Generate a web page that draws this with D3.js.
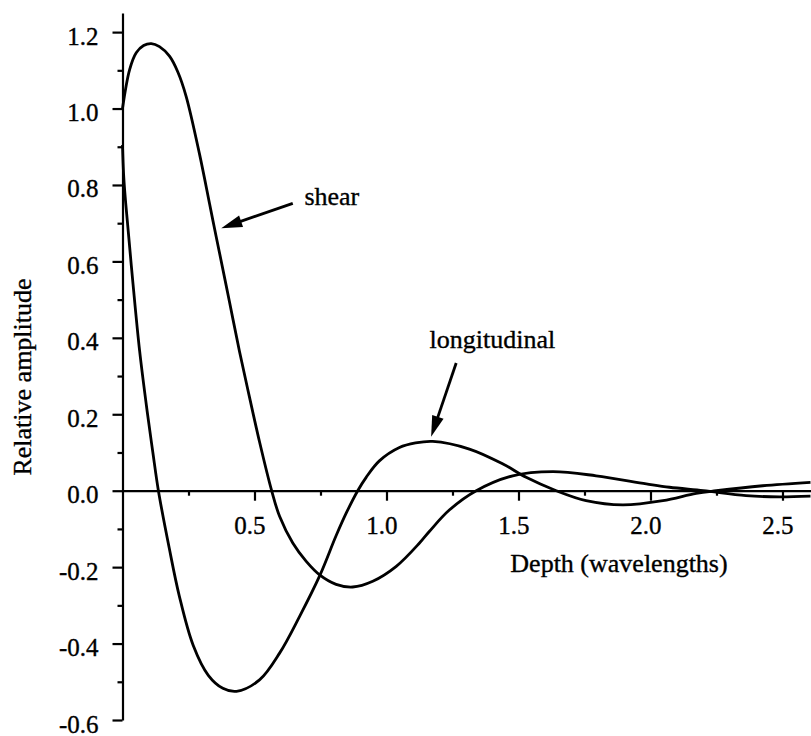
<!DOCTYPE html>
<html>
<head>
<meta charset="utf-8">
<script src="https://cdn.jsdelivr.net/npm/d3@7"></script>
<style>
  html, body { margin: 0; padding: 0; background: #fff; }
  svg { display: block; }
  text { font-family: "Liberation Serif", "Times New Roman", serif; fill: #000; stroke: #000; stroke-width: 0.35px; }
</style>
</head>
<body>
<svg id="chart" width="811" height="736"></svg>
<script>
// Depth in wavelengths and relative amplitude for the shear component
const shearDepth = [0.000, 0.027, 0.052, 0.080, 0.109, 0.140, 0.178, 0.210, 0.241, 0.292,
  0.330, 0.348, 0.367, 0.405, 0.443, 0.481, 0.519, 0.565, 0.595, 0.645,
  0.696, 0.748, 0.809, 0.872, 0.948, 1.037, 1.125, 1.163, 1.239, 1.340,
  1.478, 1.630, 1.794, 1.984, 2.072, 2.200, 2.362, 2.489, 2.606];
const shearAmp = [1.000, 1.102, 1.146, 1.165, 1.170, 1.162, 1.137, 1.095, 1.032, 0.880,
  0.750, 0.688, 0.624, 0.495, 0.365, 0.245, 0.128, 0.000, -0.067, -0.137,
  -0.185, -0.221, -0.245, -0.252, -0.237, -0.198, -0.137, -0.106, -0.050, 0.000,
  0.039, 0.050, 0.039, 0.018, 0.009, 0.000, -0.013, -0.016, -0.014];

// Depth in wavelengths and relative amplitude for the longitudinal component
const longDepth = [0.000, 0.004, 0.010, 0.019, 0.040, 0.065, 0.093, 0.115, 0.136, 0.177,
  0.215, 0.268, 0.325, 0.380, 0.432, 0.519, 0.595, 0.670, 0.748, 0.809,
  0.850, 0.891, 0.923, 0.973, 1.049, 1.110, 1.175, 1.314, 1.441, 1.529,
  1.643, 1.756, 1.895, 2.047, 2.173, 2.249, 2.425, 2.606];
const longAmp = [0.905, 0.830, 0.770, 0.700, 0.540, 0.365, 0.210, 0.100, 0.000, -0.150,
  -0.275, -0.405, -0.483, -0.517, -0.525, -0.495, -0.425, -0.330, -0.221, -0.118,
  -0.055, 0.000, 0.035, 0.078, 0.113, 0.125, 0.129, 0.109, 0.070, 0.035,
  0.000, -0.026, -0.037, -0.026, -0.007, 0.000, 0.013, 0.022];

// Axis ticks and their printed labels
const xMajorTicks = [0.5, 1.0, 1.5, 2.0, 2.5];
const xTickLabels = ["0.5", "1.0", "1.5", "2.0", "2.5"];
const xMinorTicks = [0.25, 0.75, 1.25, 1.75, 2.25];
const yMajorTicks = [-0.6, -0.4, -0.2, 0.0, 0.2, 0.4, 0.6, 0.8, 1.0, 1.2];
const yTickLabels = ["-0.6", "-0.4", "-0.2", "0.0", "0.2", "0.4", "0.6", "0.8", "1.0", "1.2"];
const yMinorTicks = [-0.5, -0.3, -0.1, 0.1, 0.3, 0.5, 0.7, 0.9, 1.1];

// Curve annotations: label text, label anchor and arrow tail/tip in data units
const annotations = [
  { text: "shear", label: [0.689, 0.747], tail: [0.645, 0.752], tip: [0.374, 0.687] },
  { text: "longitudinal", label: [1.163, 0.373], tail: [1.264, 0.334], tip: [1.169, 0.141] }
];

const svg = d3.select("#chart");
const x = d3.scaleLinear().domain([0, 2.608]).range([122.5, 811]);
const y = d3.scaleLinear().domain([-0.6, 1.25]).range([720, 13]);

// Y axis with long major ticks and short minor ticks
const yAxis = svg.append("g").attr("transform", `translate(${x(0)},0)`)
  .call(d3.axisLeft(y).tickValues(yMajorTicks).tickSize(10).tickSizeOuter(0).tickPadding(14)
    .tickFormat((d, i) => yTickLabels[i]));
svg.append("g").attr("transform", `translate(${x(0)},0)`)
  .call(d3.axisLeft(y).tickValues(yMinorTicks).tickSize(5).tickFormat(""))
  .call(g => g.select(".domain").remove());

// X axis drawn along zero amplitude
const xAxis = svg.append("g").attr("transform", `translate(0,${y(0)})`)
  .call(d3.axisBottom(x).tickValues(xMajorTicks).tickSize(10).tickSizeOuter(0).tickPadding(16)
    .tickFormat((d, i) => xTickLabels[i]));
svg.append("g").attr("transform", `translate(0,${y(0)})`)
  .call(d3.axisBottom(x).tickValues(xMinorTicks).tickSize(5).tickFormat(""))
  .call(g => g.select(".domain").remove());

svg.selectAll(".domain, .tick line").attr("stroke", "#000").attr("stroke-width", 2.2);
yAxis.selectAll(".tick text").attr("font-size", 25).attr("dy", "0.48em")
  .style("font-family", "'Liberation Serif', serif");
xAxis.selectAll(".tick text").attr("font-size", 25).attr("dx", -5)
  .style("font-family", "'Liberation Serif', serif");

// Curves
const line = d3.line().x(d => x(d[0])).y(d => y(d[1])).curve(d3.curveCatmullRom.alpha(0.5));
const shear = shearDepth.map((d, i) => [d, shearAmp[i]]);
const longitudinal = longDepth.map((d, i) => [d, longAmp[i]]);
[shear, longitudinal].forEach(series => {
  svg.append("path").datum(series)
    .attr("fill", "none").attr("stroke", "#000").attr("stroke-width", 2.8)
    .attr("stroke-linejoin", "round").attr("d", line);
});

// Axis titles
svg.append("text").attr("x", 619).attr("y", 572).attr("text-anchor", "middle")
  .attr("font-size", 26).text("Depth (wavelengths)");
svg.append("text").attr("transform", "translate(31,377) rotate(-90)")
  .attr("text-anchor", "middle").attr("font-size", 26).text("Relative amplitude");

// Labels with arrows pointing at the curves
const headLen = 21, headHalf = 6;
annotations.forEach(a => {
  const [tx, ty] = [x(a.tail[0]), y(a.tail[1])];
  const [px, py] = [x(a.tip[0]), y(a.tip[1])];
  const len = Math.hypot(px - tx, py - ty);
  const ux = (px - tx) / len, uy = (py - ty) / len;
  const bx = px - ux * headLen, by = py - uy * headLen;
  svg.append("line").attr("x1", tx).attr("y1", ty).attr("x2", bx + ux * 2).attr("y2", by + uy * 2)
    .attr("stroke", "#000").attr("stroke-width", 2.8);
  svg.append("path")
    .attr("d", `M${px},${py}L${bx - uy * headHalf},${by + ux * headHalf}L${bx + uy * headHalf},${by - ux * headHalf}Z`)
    .attr("fill", "#000");
  svg.append("text").attr("x", x(a.label[0])).attr("y", y(a.label[1]))
    .attr("font-size", 26).text(a.text);
});
</script>
</body>
</html>
